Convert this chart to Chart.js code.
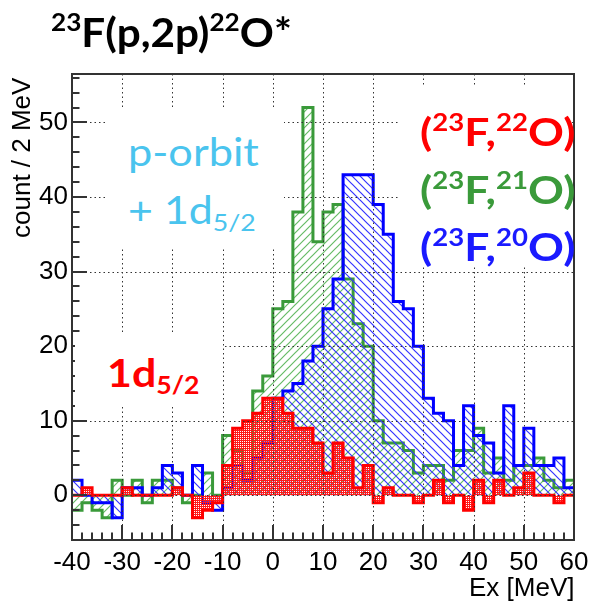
<!DOCTYPE html>
<html>
<head>
<meta charset="UTF-8">
<title>23F(p,2p)22O*</title>
<script src="https://cdn.jsdelivr.net/npm/chart.js"></script>
<style>
  html, body { margin: 0; padding: 0; background: #fff; }
  #wrap { position: relative; width: 590px; height: 603px; overflow: hidden; }
  #c { position: absolute; left: 0; top: 0; }
  .lbl { position: absolute; font-family: Lato, sans-serif; white-space: nowrap; line-height: 1; transform-origin: left top; }
  .box { position: absolute; background: #fff; }
  .lbl sup { font-size: 62%; vertical-align: baseline; position: relative; top: -0.62em; }
  .lbl sub { font-size: 62%; vertical-align: baseline; position: relative; top: 0.28em; }
  .axt { position: absolute; font-family: "Liberation Sans", Arial, sans-serif; white-space: nowrap; line-height: 1; color: #000; }
</style>
</head>
<body>
<div id="wrap">
  <canvas id="c" width="590" height="603"></canvas>
  <!-- white text boxes that hide the grid, as in the slide -->
  <div class="box" style="left:105px;top:110px;width:179px;height:138px"></div>
  <div class="box" style="left:400px;top:87px;width:172px;height:178px"></div>
  <div class="box" style="left:75px;top:332px;width:147px;height:75px"></div>

  <div class="lbl" style="left:51px;top:11px;font-size:41px;font-weight:700;color:#000;transform:scaleX(1.03)"><sup>23</sup>F(p,2p)<sup>22</sup>O*</div>

  <div class="lbl" style="left:128px;top:132px;font-size:39px;color:#4ac4ee;transform:scaleX(1.11)">p-orbit</div>
  <div class="lbl" style="left:128px;top:190px;font-size:38px;color:#4ac4ee;transform:scaleX(1.13)">+ 1d<sub>5/2</sub></div>

  <div class="lbl" style="left:420px;top:112px;font-size:39px;font-weight:700;color:#ff0000;transform:scaleX(1.14)">(<sup>23</sup>F,<sup>22</sup>O)</div>
  <div class="lbl" style="left:420px;top:170px;font-size:39px;font-weight:700;color:#3a9a3a;transform:scaleX(1.14)">(<sup>23</sup>F,<sup>21</sup>O)</div>
  <div class="lbl" style="left:420px;top:227px;font-size:39px;font-weight:700;color:#1a1aff;transform:scaleX(1.14)">(<sup>23</sup>F,<sup>20</sup>O)</div>

  <div class="lbl" style="left:107px;top:353px;font-size:39px;font-weight:700;color:#ff0000;transform:scaleX(1.1)">1d<sub>5/2</sub></div>

  <div class="axt" id="ytitle" style="font-size:26px">count / 2 MeV</div>
  <div class="axt" id="xtitle" style="font-size:26px">Ex [MeV]</div>
</div>

<script>
// bin edges of the 2 MeV histogram
const binEdges = [-40,-38,-36,-34,-32,-30,-28,-26,-24,-22,-20,-18,-16,-14,-12,-10,-8,-6,-4,-2,
                  0,2,4,6,8,10,12,14,16,18,20,22,24,26,28,30,32,34,36,38,40,42,44,46,48,50,52,54,56,58,60];

// counts per bin (23F,22O)
const redCounts = [0,1,0,0,0,1,0,0,0,0,
                   1,0,-3,-2,-1,4,9,10,11,13,
                   13,11,9,9,7,3,7,5,1,4,
                   -1,1,0,0,-1,0,2,-1,0,-2,
                   2,-1,2,0,1,3,0,0,-1,0];
// (23F,21O)
const greenCounts = [-2,-1,-2,-3,2,0,2,-1,2,2,
                     1,-1,0,3,0,8,6,3,14,16,
                     25,26,38,52,34,38,39,29,23,20,
                     10,7,7,6,3,4,4,2,6,6,
                     9,3,5,2,4,4,5,2,1,2];
// (23F,20O)
const blueCounts = [2,0,-1,-1,-3,1,1,0,1,4,
                    3,0,4,-1,-2,1,4,2,5,7,
                    13,14,15,18,20,25,29,43,43,43,
                    39,35,26,25,20,13,11,10,4,12,
                    8,7,3,12,4,9,4,4,5,1];

const xTicks = [-40,-30,-20,-10,0,10,20,30,40,50,60];
const yTicks = [0,10,20,30,40,50];

const canvas = document.getElementById('c');
const mainCtx = canvas.getContext('2d');

function hatch(color, slash) {
  const s = 8;
  const c = document.createElement('canvas');
  c.width = s; c.height = s;
  const g = c.getContext('2d');
  g.strokeStyle = color;
  g.lineWidth = 1.2;
  g.beginPath();
  if (slash) {
    g.moveTo(0, s); g.lineTo(s, 0);
    g.moveTo(-1, 1); g.lineTo(1, -1);
    g.moveTo(s - 1, s + 1); g.lineTo(s + 1, s - 1);
  } else {
    g.moveTo(0, 0); g.lineTo(s, s);
    g.moveTo(-1, s - 1); g.lineTo(1, s + 1);
    g.moveTo(s - 1, -1); g.lineTo(s + 1, 1);
  }
  g.stroke();
  return mainCtx.createPattern(c, 'repeat');
}

function dots(color) {
  const c = document.createElement('canvas');
  c.width = 2; c.height = 2;
  const g = c.getContext('2d');
  g.fillStyle = color;
  g.fillRect(0, 0, 1, 1);
  g.fillRect(1, 0, 1, 1);
  g.fillRect(1, 1, 1, 1);
  return mainCtx.createPattern(c, 'repeat');
}

function histPoints(counts) {
  return binEdges.map((x, i) => ({ x: x, y: counts[Math.min(i, counts.length - 1)] }));
}

function histSet(counts, line, fill, order) {
  return {
    data: histPoints(counts),
    stepped: 'before',
    borderColor: line,
    borderWidth: 3,
    backgroundColor: fill,
    fill: 'origin',
    pointRadius: 0,
    tension: 0,
    order: order
  };
}

// ROOT-like frame: dotted grid, inward ticks, frame box
const rootFrame = {
  id: 'rootFrame',
  afterDatasetsDraw(chart) {
    const { ctx, chartArea: a, scales: { x, y } } = chart;
    ctx.save();
    ctx.strokeStyle = '#333';
    ctx.lineWidth = 1;
    ctx.setLineDash([1.5, 3]);
    ctx.beginPath();
    xTicks.forEach(v => {
      if (v <= x.min || v >= x.max) return;
      const px = Math.round(x.getPixelForValue(v)) + 0.5;
      ctx.moveTo(px, a.top); ctx.lineTo(px, a.bottom);
    });
    yTicks.forEach(v => {
      const py = Math.round(y.getPixelForValue(v)) + 0.5;
      ctx.moveTo(a.left, py); ctx.lineTo(a.right, py);
    });
    ctx.stroke();
    ctx.setLineDash([]);

    ctx.strokeStyle = '#333';
    ctx.lineWidth = 2;
    ctx.beginPath();
    for (let v = -40; v <= 60; v += 2) {
      const px = Math.round(x.getPixelForValue(v));
      const len = (v % 10 === 0) ? 15 : 7.5;
      ctx.moveTo(px, a.bottom); ctx.lineTo(px, a.bottom - len);
    }
    for (let v = -6; v <= 56; v += 2) {
      const py = Math.round(y.getPixelForValue(v));
      const len = (v % 10 === 0) ? 15 : 7.5;
      ctx.moveTo(a.left, py); ctx.lineTo(a.left + len, py);
    }
    ctx.stroke();
    ctx.strokeRect(a.left, a.top, a.right - a.left, a.bottom - a.top);
    ctx.restore();
  }
};

const tickFont = { family: '"Liberation Sans", Arial, sans-serif', size: 26 };

const chart = new Chart(canvas, {
  type: 'line',
  data: {
    datasets: [
      histSet(redCounts, '#ff0000', dots('#ff1a1a'), 0),
      histSet(blueCounts, '#0000ff', hatch('#3535ff', false), 1),
      histSet(greenCounts, '#3a9a3a', hatch('#66bb66', true), 2)
    ]
  },
  options: {
    responsive: false,
    animation: false,
    devicePixelRatio: 1,
    layout: { padding: { top: 74, right: 16, left: 0, bottom: 0 } },
    plugins: { legend: { display: false }, tooltip: { enabled: false } },
    scales: {
      x: {
        type: 'linear', min: -40, max: 60,
        afterBuildTicks: s => { s.ticks = xTicks.map(v => ({ value: v })); },
        afterFit: s => { s.height = 63; s.paddingLeft = 0; s.paddingRight = 0; },
        grid: { display: false, drawTicks: false },
        border: { display: false },
        ticks: { color: '#000', font: tickFont, padding: 7, maxRotation: 0, autoSkip: false }
      },
      y: {
        type: 'linear', min: -6, max: 56.5,
        afterBuildTicks: s => { s.ticks = yTicks.map(v => ({ value: v })); },
        afterFit: s => { s.width = 72; s.paddingTop = 0; s.paddingBottom = 0; },
        grid: { display: false, drawTicks: false },
        border: { display: false },
        ticks: { color: '#000', font: tickFont, padding: 4, autoSkip: false }
      }
    }
  },
  plugins: [rootFrame]
});

// axis titles placed like ROOT (aligned to the axis ends)
const yt = document.getElementById('ytitle');
yt.style.transformOrigin = 'top left';
yt.style.transform = 'rotate(-90deg)';
yt.style.left = '8px';
yt.style.top = (chart.chartArea.top + 4 + yt.offsetWidth) + 'px';
const xt = document.getElementById('xtitle');
xt.style.left = (chart.chartArea.right - xt.offsetWidth) + 'px';
xt.style.top = '574px';
</script>
</body>
</html>
